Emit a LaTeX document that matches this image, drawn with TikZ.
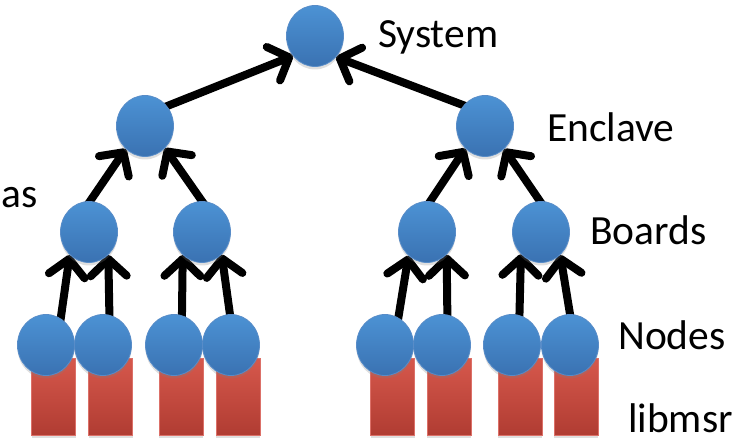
\documentclass[tikz,border=0pt]{standalone}
\usepackage{fontspec}
\setmainfont{Carlito}
\usetikzlibrary{arrows.meta,shapes.geometric,shadows}

\definecolor{balltop}{RGB}{76,146,212}
\definecolor{ballbot}{RGB}{58,114,178}
\definecolor{balledge}{RGB}{88,140,200}
\definecolor{libtop}{RGB}{214,88,76}
\definecolor{libbot}{RGB}{176,60,50}
\definecolor{libedge}{RGB}{220,112,104}

\pgfdeclarelayer{links}
\pgfsetlayers{links,main}

\begin{document}
\begin{tikzpicture}[x=1pt,y=-1pt,
  ball/.style={ellipse, minimum width=57pt, minimum height=61pt, inner sep=0pt,
    draw=balledge, line width=0.8pt, top color=balltop, bottom color=ballbot,
    drop shadow={shadow xshift=0pt, shadow yshift=-3pt, opacity=0.25}},
  lib/.style={rectangle, minimum width=44pt, minimum height=77pt, inner sep=0pt,
    draw=libedge, line width=0.8pt, top color=libtop, bottom color=libbot,
    drop shadow={shadow xshift=0pt, shadow yshift=-3pt, opacity=0.25}},
  link/.style={line width=8pt, shorten <=-8pt,
    -{Straight Barb[length=17pt,width=36pt,round]}},
  lbl/.style={font=\fontsize{41.5}{41.5}\selectfont, inner sep=0pt, anchor=base west}]

\useasboundingbox (0,0) rectangle (753,443);

% library boxes under the compute nodes
\node[lib] (L1) at (53.5,397) {};
\node[lib] (L2) at (110.5,397) {};
\node[lib] (L3) at (181,397) {};
\node[lib] (L4) at (238,397) {};
\node[lib] (L5) at (392.5,397) {};
\node[lib] (L6) at (449,397) {};
\node[lib] (L7) at (520,397) {};
\node[lib] (L8) at (576,397) {};

% hierarchy
\node[ball] (S)  at (315,36) {};
\node[ball] (E1) at (145,126) {};
\node[ball] (E2) at (485,126) {};
\node[ball] (B1) at (89,232) {};
\node[ball] (B2) at (202,232) {};
\node[ball] (B3) at (427,232) {};
\node[ball] (B4) at (541,232) {};
\node[ball] (N1) at (46,345) {};
\node[ball] (N2) at (103,345) {};
\node[ball] (N3) at (174,345) {};
\node[ball] (N4) at (231,345) {};
\node[ball] (N5) at (385,345) {};
\node[ball] (N6) at (442,345) {};
\node[ball] (N7) at (512,345) {};
\node[ball] (N8) at (570,345) {};

\begin{pgfonlayer}{links}
  \draw[link] (E1.42)  -- (S.222);
  \draw[link] (E2.136) -- (S.315);
  \draw[link] (B1.88)  -- (E1.230);
  \draw[link] (B2.90)  -- (E1.312);
  \draw[link] (B3.84)  -- (E2.229);
  \draw[link] (B4.92)  -- (E2.310);
  \draw[link] (N1.61)  -- (B1.230);
  \draw[link] (N2.78)  -- (B1.310);
  \draw[link] (N3.75)  -- (B2.230);
  \draw[link] (N4.92)  -- (B2.311);
  \draw[link] (N5.64)  -- (B3.232);
  \draw[link] (N6.80)  -- (B3.311);
  \draw[link] (N7.76)  -- (B4.228);
  \draw[link] (N8.90)  -- (B4.310);
\end{pgfonlayer}

% level labels
\node[lbl] (tS) at (378,48) {System};
\node[lbl] (tE) at (547,142) {Enclave};
\node[lbl] (tB) at (590,245) {Boards};
\node[lbl] (tN) at (618,350) {Nodes};
\node[lbl] (tL) at (628,433) {libmsr};
\node[lbl] (tA) at (1,208) {as};
\end{tikzpicture}
\end{document}
